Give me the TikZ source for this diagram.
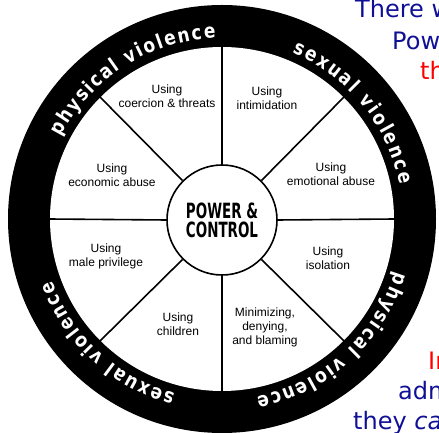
\documentclass[tikz,border=0pt]{standalone}
\usepackage{fontspec}
\setmainfont{Liberation Sans}
\newfontfamily\ringfont{DejaVu Sans}[FakeStretch=0.85]
\newfontfamily\hubfont{DejaVu Sans}[FakeStretch=0.64]
\newfontfamily\slidefont{DejaVu Sans}
\usetikzlibrary{calc,decorations.text}
\definecolor{slideblue}{RGB}{16,16,150}

\begin{document}
\begin{tikzpicture}[x=1pt,y=1pt,
  sector/.style={align=center,font=\fontsize{12}{14}\selectfont},
  spoke/.style={line width=1.6pt},
  side/.style={anchor=base west,inner sep=0pt,text=slideblue,font=\slidefont\fontsize{24}{28}\selectfont},
  ringtext/.style={decorate,decoration={text along path,text align=fit to path,
    text={|\ringfont\bfseries\fontsize{20}{20}\selectfont\color{white}|#1}}}]
\useasboundingbox (0,0) rectangle (439,433);
\clip (0,0) rectangle (439,433);
\coordinate (c) at (222,214);

% Outer ring
\fill[black] (c) circle (214);
\fill[white] (c) circle (172);

% Ring labels
\path[ringtext=physical violence] ($(c)+(153:181)$) arc[start angle=153,end angle=92,radius=181];
\path[ringtext=sexual violence] ($(c)+(67:181)$) arc[start angle=67,end angle=11,radius=181];
\path[ringtext=physical violence] ($(c)+(-17:181)$) arc[start angle=-17,end angle=-79,radius=181];
\path[ringtext=sexual violence] ($(c)+(255:181)$) arc[start angle=255,end angle=200,radius=181];

% Central node
\node[circle,draw,line width=1.6pt,fill=white,minimum size=110pt,inner sep=0pt,align=center,
  font=\hubfont\bfseries\fontsize{21}{19}\selectfont] (hub) at (222,213)
  {POWER \&\\CONTROL};

% Spokes
\foreach \a in {0,45,...,315}{
  \coordinate (rim\a) at ($(c)+(\a:173)$);
  \draw[spoke] (hub.\a) -- (rim\a);
}

% Sectors
\node[sector] (coercion) at (167,336.5) {Using\\coercion \& threats};
\node[sector] (intim) at (267,334.5) {Using\\intimidation};
\node[sector] (econ) at (112,258) {Using\\economic abuse};
\node[sector] (emot) at (331,258.5) {Using\\emotional abuse};
\node[sector] (male) at (106,177) {Using\\male privilege};
\node[sector] (isol) at (328,174.5) {Using\\isolation};
\node[sector] (child) at (178,109) {Using\\children};
\node[sector] (minim) at (265,106) {Minimizing,\\denying,\\and blaming};

% Slide text (cut at the edge)
\node[side] (there) at (355,415) {There w};
\node[side] (pow) at (392,383) {Pow};
\node[side,text=red] (th) at (420,353) {th};
\node[side,text=red] (inn) at (428,63) {In};
\node[side] (adm) at (398,33) {adm};
\node[side] (they) at (353,3) {they \textit{ca}};

\end{tikzpicture}
\end{document}
